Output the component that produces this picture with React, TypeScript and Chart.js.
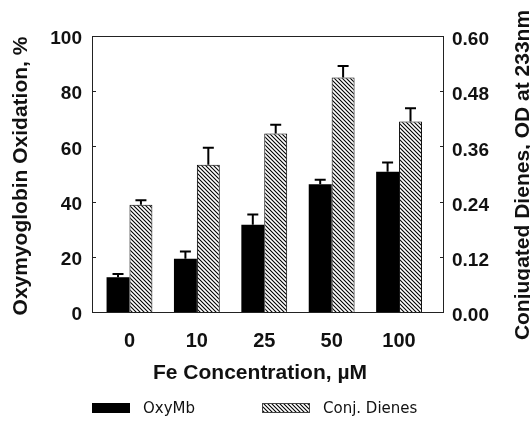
import React, { useEffect, useRef } from 'react';
import { Chart, registerables } from 'chart.js';

Chart.register(...registerables);

const categories = ['0', '10', '25', '50', '100'];
const oxyMb = [12.6, 19.3, 31.6, 46.3, 50.8];
const oxyMbErr = [1.2, 2.6, 3.7, 1.6, 3.4];
const conjDienes = [0.233, 0.32, 0.388, 0.51, 0.414];
const conjDienesErr = [0.01, 0.037, 0.019, 0.025, 0.029];
const leftTicks = [0, 20, 40, 60, 80, 100];
const rightTicks = [0, 0.12, 0.24, 0.36, 0.48, 0.6];
const xTitle = 'Fe Concentration, µM';
const yTitle = 'Oxymyoglobin Oxidation, %';
const y1Title = 'Conjugated Dienes, OD at 233nm';
const legendLabels = ['OxyMb', 'Conj. Dienes'];

const BOLD = "'Liberation Sans', Arial, Helvetica, sans-serif";
const REG = "'DejaVu Sans', sans-serif";

function makeHatch(): CanvasPattern | string {
  const s = 4;
  const c = document.createElement('canvas');
  c.width = s;
  c.height = s;
  const g = c.getContext('2d');
  if (!g) return '#888';
  g.fillStyle = '#fff';
  g.fillRect(0, 0, s, s);
  g.strokeStyle = '#000';
  g.lineWidth = 1.1;
  g.beginPath();
  g.moveTo(-1, -1);
  g.lineTo(s + 1, s + 1);
  g.moveTo(-1, s - 1);
  g.lineTo(1, s + 1);
  g.moveTo(s - 1, -1);
  g.lineTo(s + 1, 1);
  g.stroke();
  const p = g.createPattern(c, 'repeat');
  return p || '#888';
}

export default function App() {
  const ref = useRef<HTMLCanvasElement | null>(null);

  useEffect(() => {
    if (!ref.current) return;
    const hatch = makeHatch();

    const decor = {
      id: 'decor',
      afterDatasetsDraw(chart: any) {
        const ctx = chart.ctx;
        chart.data.datasets.forEach((ds: any, di: number) => {
          const meta = chart.getDatasetMeta(di);
          const yScale = chart.scales[ds.yAxisID];
          meta.data.forEach((bar: any, i: number) => {
            const v = ds.data[i].y;
            const yTop = yScale.getPixelForValue(v + ds.errors[i]);
            ctx.save();
            ctx.strokeStyle = '#000';
            ctx.lineWidth = 2;
            ctx.beginPath();
            ctx.moveTo(bar.x, bar.y);
            ctx.lineTo(bar.x, yTop);
            ctx.moveTo(bar.x - 5.5, yTop);
            ctx.lineTo(bar.x + 5.5, yTop);
            ctx.stroke();
            ctx.restore();
          });
        });
      },
      afterDraw(chart: any) {
        const ctx = chart.ctx;
        const { left, right, top, bottom } = chart.chartArea;
        ctx.save();
        ctx.strokeStyle = '#222';
        ctx.lineWidth = 1;
        ctx.strokeRect(left + 0.5, top + 0.5, right - left - 1, bottom - top);
        const yS = chart.scales.y;
        const y1S = chart.scales.y1;
        ctx.beginPath();
        leftTicks.forEach((v) => {
          const py = Math.round(yS.getPixelForValue(v)) + 0.5;
          ctx.moveTo(left, py);
          ctx.lineTo(left + 4, py);
        });
        rightTicks.forEach((v) => {
          const py = Math.round(y1S.getPixelForValue(v)) + 0.5;
          ctx.moveTo(right, py);
          ctx.lineTo(right - 4, py);
        });
        ctx.stroke();
        ctx.fillStyle = '#111';
        ctx.font = `bold 21px ${BOLD}`;
        ctx.textAlign = 'center';
        ctx.textBaseline = 'middle';
        ctx.fillText(xTitle, 260, 373);
        ctx.save();
        ctx.translate(21, (top + bottom) / 2 + 2);
        ctx.rotate(-Math.PI / 2);
        ctx.fillText(yTitle, 0, 0);
        ctx.restore();
        ctx.save();
        ctx.translate(523, (top + bottom) / 2 + 1);
        ctx.rotate(-Math.PI / 2);
        ctx.fillText(y1Title, 0, 0);
        ctx.restore();
        ctx.fillStyle = '#000';
        ctx.fillRect(92, 403, 38, 10);
        ctx.fillStyle = hatch as any;
        ctx.fillRect(262, 403, 48, 10);
        ctx.strokeStyle = '#444';
        ctx.strokeRect(262.5, 403.5, 47, 9);
        ctx.fillStyle = '#111';
        ctx.font = `15px ${REG}`;
        ctx.textAlign = 'left';
        ctx.fillText(legendLabels[0], 143, 409);
        ctx.fillText(legendLabels[1], 323, 409);
        ctx.restore();
      },
    };

    const chart = new Chart(ref.current, {
      type: 'bar',
      data: {
        datasets: [
          {
            label: legendLabels[0],
            data: oxyMb.map((v, i) => ({ x: i, y: v })),
            errors: oxyMbErr,
            backgroundColor: '#000',
            borderWidth: 0,
            yAxisID: 'y',
            categoryPercentage: 0.68,
            barPercentage: 1,
          } as any,
          {
            label: legendLabels[1],
            data: conjDienes.map((v, i) => ({ x: i, y: v })),
            errors: conjDienesErr,
            backgroundColor: hatch as any,
            borderColor: '#000',
            borderWidth: 1,
            yAxisID: 'y1',
            categoryPercentage: 0.68,
            barPercentage: 1,
          } as any,
        ],
      },
      options: {
        animation: false,
        responsive: false,
        layout: { padding: { top: 36, left: 0, right: 0, bottom: 0 } },
        plugins: { legend: { display: false }, tooltip: { enabled: false } },
        scales: {
          x: {
            type: 'linear',
            position: 'bottom',
            offset: false,
            min: -0.556,
            max: 4.667,
            grid: { display: false, drawTicks: false, offset: false },
            border: { display: false },
            afterBuildTicks: (s: any) => {
              s.ticks = categories.map((_, i) => ({ value: i }));
            },
            afterFit: (s: any) => {
              s.height = 112;
            },
            ticks: {
              padding: 17,
              color: '#111',
              font: { family: BOLD, size: 20, weight: 'bold' },
              callback: (v: any) => categories[Math.round(Number(v))] ?? '',
              maxRotation: 0,
              autoSkip: false,
            },
          },
          y: {
            type: 'linear',
            position: 'left',
            min: 0,
            max: 100,
            grid: { display: false, drawTicks: false },
            border: { display: false },
            afterBuildTicks: (s: any) => {
              s.ticks = leftTicks.map((v) => ({ value: v }));
            },
            afterFit: (s: any) => {
              s.width = 92;
            },
            ticks: {
              padding: 10,
              labelOffset: 3,
              color: '#111',
              font: { family: BOLD, size: 19, weight: 'bold' },
              callback: (v: any) => String(v),
            },
          },
          y1: {
            type: 'linear',
            position: 'right',
            min: 0,
            max: 0.6,
            grid: { display: false, drawTicks: false },
            border: { display: false },
            afterBuildTicks: (s: any) => {
              s.ticks = rightTicks.map((v) => ({ value: v }));
            },
            afterFit: (s: any) => {
              s.width = 86;
            },
            ticks: {
              padding: 8,
              labelOffset: 4,
              color: '#111',
              font: { family: BOLD, size: 19, weight: 'bold' },
              callback: (v: any) => Number(v).toFixed(2),
            },
          },
        },
      } as any,
      plugins: [decor],
    });
    return () => chart.destroy();
  }, []);

  return (
    <div style={{ position: 'absolute', left: 0, top: 0, width: 530, height: 424, background: '#fff' }}>
      <canvas ref={ref} width={530} height={424} style={{ display: 'block', width: 530, height: 424 }} />
    </div>
  );
}
